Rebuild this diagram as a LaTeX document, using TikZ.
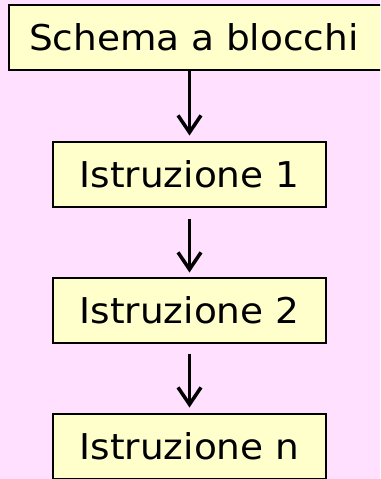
\documentclass[tikz,border=0pt]{standalone}
\usepackage{fontspec}
\setmainfont{DejaVu Sans}[FakeStretch=1.055]
\usetikzlibrary{arrows.meta}
\definecolor{bgpink}{RGB}{255,224,255}
\definecolor{boxyellow}{RGB}{255,255,204}
\tikzset{
  blockbox/.style={draw=black, line width=2pt, fill=boxyellow, minimum width=273pt, minimum height=65pt, inner sep=0pt, font=\fontsize{35.5}{40}\selectfont},
  flowarrow/.style={line width=3.5pt, -{Straight Barb[length=17pt,width=23pt,line width=3.5pt]}}
}
\begin{document}
\begin{tikzpicture}[x=1pt,y=-1pt]
  \fill[bgpink] (0,0) rectangle (380,479);
  \useasboundingbox (0,0) rectangle (380,479);
  \begin{scope}
  \clip (0,0) rectangle (380,479);
  \node[blockbox, anchor=west, minimum width=384pt, text width=344pt, inner xsep=20pt, align=left] (top) at (8,37.5) {Schema a blocchi};
  \end{scope}
  \node[blockbox] (b1) at (189.5,174) {Istruzione 1\hspace{14pt}};
  \node[blockbox] (b2) at (189.5,310) {Istruzione 2\hspace{14pt}};
  \node[blockbox] (b3) at (189.5,446) {Istruzione n\hspace{14pt}};
  \draw[flowarrow, shorten >=5pt] (b1.north |- top.south) -- (b1.north);
  \draw[flowarrow, shorten <=11pt, shorten >=4pt] (b1.south) -- (b2.north);
  \draw[flowarrow, shorten <=10pt, shorten >=5pt] (b2.south) -- (b3.north);
\end{tikzpicture}
\end{document}
